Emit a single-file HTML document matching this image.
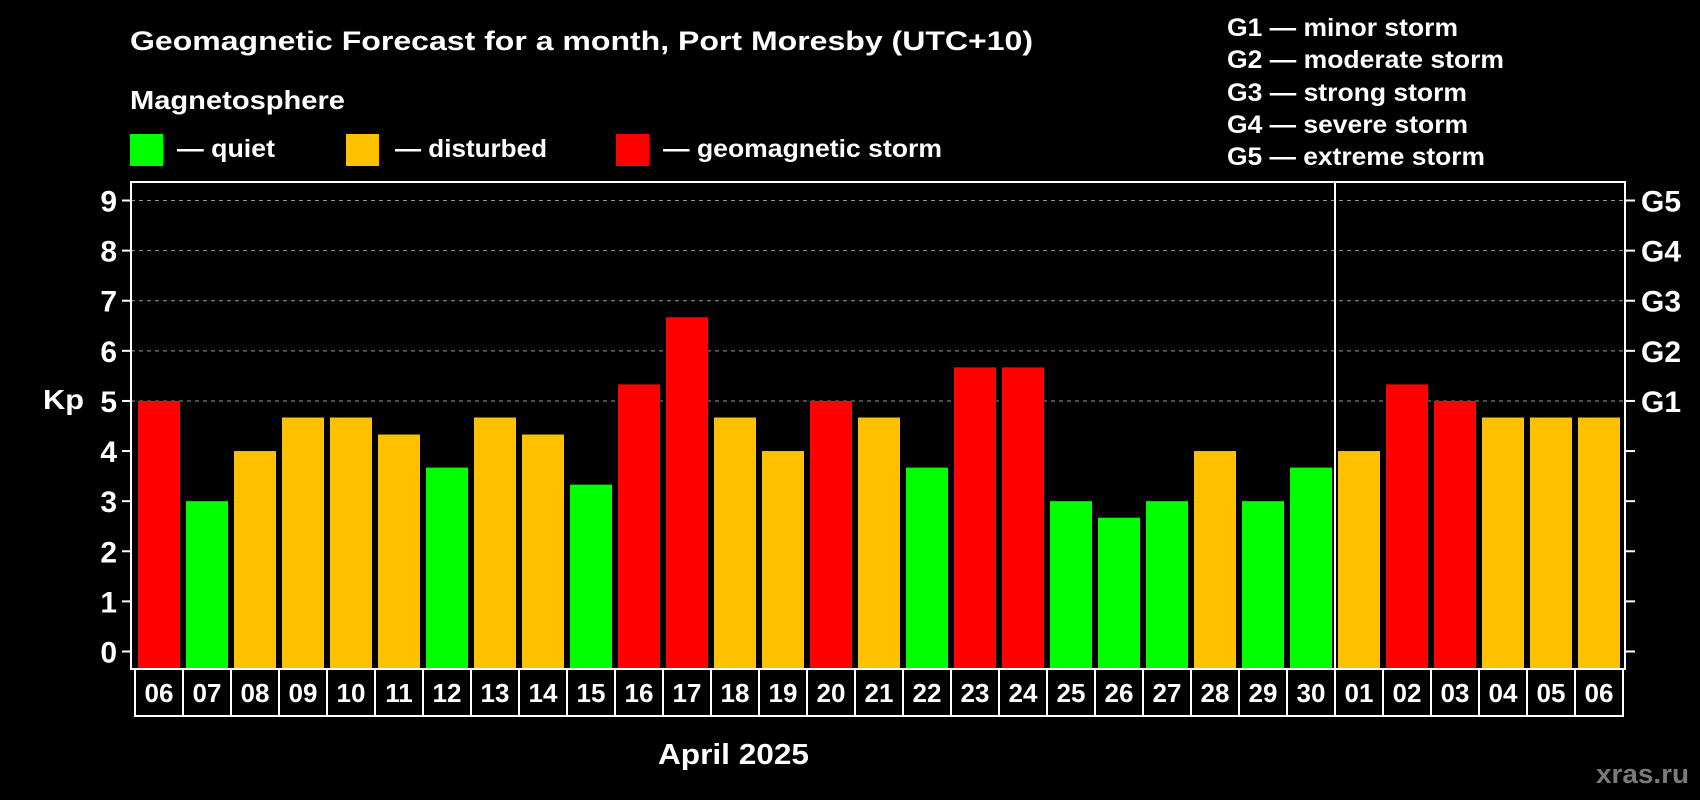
<!DOCTYPE html>
<html><head><meta charset="utf-8"><style>
html,body{margin:0;padding:0;background:#000;}
svg{display:block;font-family:"Liberation Sans",Arial,sans-serif;font-weight:bold;}
</style></head><body>
<svg id="chart" width="1700" height="800" viewBox="0 0 1700 800">
<rect x="0" y="0" width="1700" height="800" fill="#000"/>
<text x="130" y="50" fill="#fff" font-size="27" textLength="903" lengthAdjust="spacingAndGlyphs">Geomagnetic Forecast for a month, Port Moresby (UTC+10)</text>
<text x="130" y="109" fill="#fff" font-size="26" textLength="215" lengthAdjust="spacingAndGlyphs">Magnetosphere</text>
<g>
<rect x="130" y="134" width="33" height="32" fill="#00ff00"/>
<text x="177" y="157" fill="#fff" font-size="25" textLength="98" lengthAdjust="spacingAndGlyphs">— quiet</text></g>
<g>
<rect x="346" y="134" width="33" height="32" fill="#ffc000"/>
<text x="395" y="157" fill="#fff" font-size="25" textLength="152" lengthAdjust="spacingAndGlyphs">— disturbed</text></g>
<g>
<rect x="616" y="134" width="33" height="32" fill="#ff0000"/>
<text x="663" y="157" fill="#fff" font-size="25" textLength="279" lengthAdjust="spacingAndGlyphs">— geomagnetic storm</text></g>
<g font-size="25" fill="#fff">
<text x="1227" y="36" textLength="231" lengthAdjust="spacingAndGlyphs">G1 — minor storm</text>
<text x="1227" y="68" textLength="277" lengthAdjust="spacingAndGlyphs">G2 — moderate storm</text>
<text x="1227" y="101" textLength="240" lengthAdjust="spacingAndGlyphs">G3 — strong storm</text>
<text x="1227" y="133" textLength="241" lengthAdjust="spacingAndGlyphs">G4 — severe storm</text>
<text x="1227" y="165" textLength="258" lengthAdjust="spacingAndGlyphs">G5 — extreme storm</text>
</g>
<text x="43" y="409" fill="#fff" font-size="28" textLength="41" lengthAdjust="spacingAndGlyphs">Kp</text>
<text x="658" y="764" fill="#fff" font-size="29" textLength="151" lengthAdjust="spacingAndGlyphs">April 2025</text>
<text x="1596" y="783" fill="#7a7a7a" font-size="27" textLength="93" lengthAdjust="spacingAndGlyphs">xras.ru</text>
<g id="grid"></g><g id="bars"></g><g id="axes"></g>
</svg>
<script>
const days = ["06","07","08","09","10","11","12","13","14","15","16","17","18","19","20","21","22","23","24","25","26","27","28","29","30","01","02","03","04","05","06"];
const kpValues = [5,3,4,4.67,4.67,4.33,3.67,4.67,4.33,3.33,5.33,6.67,4.67,4,5,4.67,3.67,5.67,5.67,3,2.67,3,4,3,3.67,4,5.33,5,4.67,4.67,4.67];
const yTicks = [0,1,2,3,4,5,6,7,8,9];
const gLabels = ["G1","G2","G3","G4","G5"];
const gLevels = [5,6,7,8,9];
const NS="http://www.w3.org/2000/svg";
const L=131,R=1625,T=182,B=669,y0=651.5,unit=(651.5-200.5)/9,x0=138,pitch=48,bw=42;
const yS=v=>y0-v*unit, xS=i=>x0+i*pitch;
function mk(tag,attrs,parent){const e=document.createElementNS(NS,tag);for(const k in attrs)e.setAttribute(k,attrs[k]);parent.appendChild(e);return e;}
const grid=document.getElementById('grid'),bars=document.getElementById('bars'),axes=document.getElementById('axes');
gLevels.forEach(v=>{const l=mk('line',{x1:L,x2:R,y1:yS(v),y2:yS(v),stroke:'#999','stroke-dasharray':'4,4','stroke-width':1},grid);

});
const color=v=>v>=5?'#ff0000':(v>=4?'#ffc000':'#00ff00');
kpValues.forEach((v,i)=>{const r=mk('rect',{x:xS(i),y:yS(v),width:bw,height:B-yS(v),fill:color(v)},bars);

});
const f=mk('rect',{x:L,y:T,width:R-L,height:B-T,fill:'none',stroke:'#fff','stroke-width':2},axes);


const div=xS(25)-3;
const dl=mk('line',{x1:div,x2:div,y1:T,y2:B+47,stroke:'#fff','stroke-width':2},axes);


yTicks.forEach(v=>{const y=yS(v);
const t=mk('line',{x1:L-9,x2:L,y1:y,y2:y,stroke:'#fff','stroke-width':2},axes);


const t2=mk('line',{x1:R,x2:R+10,y1:y,y2:y,stroke:'#fff','stroke-width':2},axes);


const tx=mk('text',{x:117,y:y+11,fill:'#fff','font-size':30,'text-anchor':'end'},axes);tx.textContent=v;

});
gLevels.forEach((v,i)=>{const tx=mk('text',{x:1641,y:yS(v)+11,fill:'#fff','font-size':30},axes);tx.textContent=gLabels[i];

});
const bx=mk('rect',{x:135,y:B,width:1488,height:47,fill:'none',stroke:'#fff','stroke-width':2},axes);


days.forEach((d,i)=>{const cx=xS(i)+bw/2;
if(i>0){const s=mk('line',{x1:xS(i)-3,x2:xS(i)-3,y1:B,y2:B+47,stroke:'#fff','stroke-width':2},axes);

}
const tx=mk('text',{x:cx,y:B+33,fill:'#fff','font-size':26,'text-anchor':'middle'},axes);tx.textContent=d;

});
</script>
</body></html>
